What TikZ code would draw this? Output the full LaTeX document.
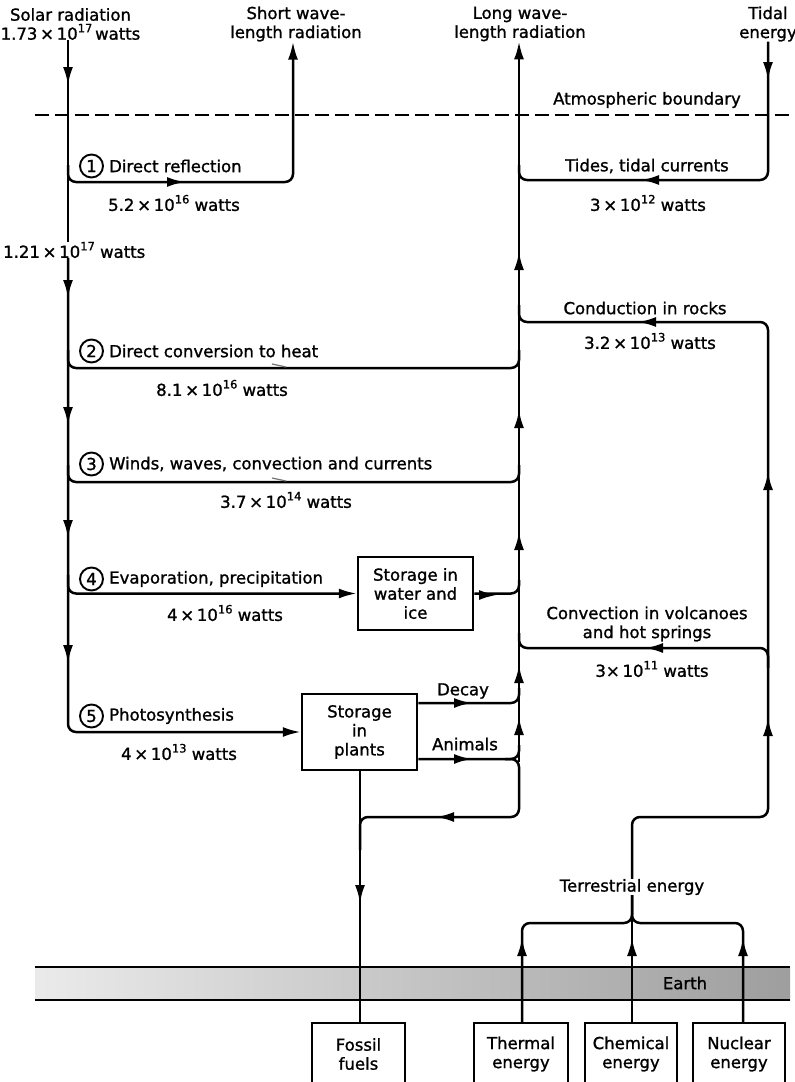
\documentclass[tikz,border=0pt]{standalone}
\usepackage{fontspec}
\setmainfont{DejaVu Sans}
\newfontfamily\diagfont{DejaVu Sans}[FakeBold=1.2]
\usetikzlibrary{arrows.meta}
\newcommand\myexp[1]{\raisebox{0.45em}{\fontsize{11.5}{12}\selectfont #1}}
\begin{document}
\begin{tikzpicture}[x=1pt,y=-1pt,
  flow/.style={line width=2.5pt, rounded corners=8pt},
  tip/.style={-{Latex[length=18pt,width=10pt]}},
  lab/.style={font=\diagfont\fontsize{16.5}{19}\selectfont, inner sep=0pt, align=center},
  box/.style={draw, line width=2.5pt, inner sep=0pt, align=center, font=\diagfont\fontsize{16.5}{19}\selectfont},
  numc/.style={circle, draw, line width=1.9pt, minimum size=23pt, inner sep=0pt, font=\diagfont\fontsize{16.5}{19}\selectfont},
  harp/.style={line width=1.2pt, black!55}]
\useasboundingbox (0,0) rectangle (795,1082);
\fill[white] (0,0) rectangle (795,1082);

% Earth band
\shade[left color=black!8, right color=black!38] (35,967) rectangle (790,1000);
\draw[line width=2.6pt] (35,967) -- (790,967) (35,1000) -- (790,1000);
\node[lab] (earth) at (685,983) {Earth};

% atmospheric boundary
\draw[line width=2.3pt, dash pattern=on 14pt off 6pt] (35,115) -- (795,115);
\node[lab] (atmo) at (647,100) {Atmospheric boundary};

% top labels
\node[lab, anchor=west] (solar) at (0.5,24) {Solar radiation\\1.73\,×\,10\myexp{17}\,watts};
\node[lab] (short) at (296,24) {Short wave-\\length radiation};
\node[lab] (long) at (520,24) {Long wave-\\length radiation};
\node[lab] (tidal) at (768,24) {Tidal\\energy};

% boxes
\node[box, minimum width=115pt, minimum height=73pt] (water) at (415.5,593.5) {Storage in\\water and\\ice};
\node[box, minimum width=115pt, minimum height=76pt] (plants) at (359.5,732) {Storage\\in\\plants};
\node[box, minimum width=93pt, minimum height=62pt] (fossil) at (358.5,1054) {Fossil\\fuels};
\node[box, minimum width=94pt, minimum height=62pt] (thermal) at (521,1054) {Thermal\\energy};
\node[box, minimum width=92pt, minimum height=62pt] (chem) at (631,1054) {Chemical\\energy};
\node[box, minimum width=92pt, minimum height=62pt] (nuc) at (739,1054) {Nuclear\\energy};

% main solar vertical
\node[lab, anchor=west] (w121) at (3,250) {1.21\,×\,10\myexp{17} watts};
\draw[flow] (solar.south -| 68,0) -- (w121.north -| 68,0);
\draw[flow,tip] (w121.south -| 68,0) |- (plants.west);
\draw[flow,tip] (68,75) -- (68,85);
\draw[flow,tip] (68,288) -- (68,298);
\draw[flow,tip] (68,415) -- (68,425);
\draw[flow,tip] (68,528) -- (68,538);
\draw[flow,tip] (68,653) -- (68,663);

% long wave vertical
\draw[flow,tip] (519,762) -- (long.south -| 519,0);
\draw[flow,tip] (519,727) -- (519,717);
\draw[flow,tip] (519,675) -- (519,665);
\draw[flow,tip] (519,542) -- (519,532);
\draw[flow,tip] (519,420) -- (519,410);
\draw[flow,tip] (519,262) -- (519,252);

% branch 1
\node[numc] (n1) at (91.5,166) {1};
\node[lab, anchor=west] (t1) at (109,166) {Direct reflection};
\node[lab] (w1) at (174,203) {5.2\,×\,10\myexp{16} watts};
\draw[flow,tip] (68,165) |- (293,182) -- (short.south -| 293,0);
\draw[flow,tip] (175,182) -- (185,182);

% branch 2
\node[numc] (n2) at (91.5,351) {2};
\node[lab, anchor=west] (t2) at (109,351) {Direct conversion to heat};
\node[lab] (w2) at (222,388) {8.1\,×\,10\myexp{16} watts};
\draw[flow] (68,350) -- (68,368) -- (519,368) -- (519,350);
\draw[harp] (272,364) -- (286,367);

% branch 3
\node[numc] (n3) at (91.5,464) {3};
\node[lab, anchor=west] (t3) at (109,464) {Winds, waves, convection and currents};
\node[lab] (w3) at (286,500) {3.7\,×\,10\myexp{14} watts};
\draw[flow] (68,465) -- (68,482) -- (519,482) -- (519,465);
\draw[harp] (272,478) -- (286,481);

% branch 4
\node[numc] (n4) at (91.5,579) {4};
\node[lab, anchor=west] (t4) at (109,579) {Evaporation, precipitation};
\node[lab] (w4) at (225,613) {4\,×\,10\myexp{16} watts};
\draw[flow,tip] (68,575) |- (water.west);
\draw[flow] (water.east) -| (519,580);
\draw[flow,tip] (487,595) -- (497,595);

% branch 5
\node[numc] (n5) at (91.5,716) {5};
\node[lab, anchor=west] (t5) at (109,716) {Photosynthesis};
\node[lab] (w5) at (179,752) {4\,×\,10\myexp{13} watts};

% decay / animals
\node[lab] (decay) at (463,691) {Decay};
\node[lab] (animals) at (465,744) {Animals};
\draw[flow] (plants.east |- 0,703) -| (519,688);
\draw[flow,tip] (462,703) -- (472,703);
\draw[flow] (plants.east |- 0,759) -| (519,745);
\draw[flow,tip] (462,759) -- (472,759);
\draw[flow] (505,759) -| (519,817) -| (360,850);
\draw[flow,tip] (446,817) -- (436,817);
\draw[flow] (plants.south -| 360,0) -- (fossil.north -| 360,0);
\draw[flow,tip] (360,893) -- (360,903);

% tidal
\node[lab] (tides) at (647,166) {Tides, tidal currents};
\node[lab] (w6) at (648,203) {3\,×\,10\myexp{12} watts};
\draw[flow] (tidal.south -| 768,0) |- (519,180) -- (519,165);
\draw[flow,tip] (768,68) -- (768,80);
\draw[flow,tip] (651,180) -- (641,180);

% terrestrial loop
\node[lab] (terr) at (632,887) {Terrestrial energy};
\draw[flow] (terr.north) |- (768,817) |- (519,322) -- (519,305);
\draw[flow,tip] (768,728) -- (768,718);
\draw[flow,tip] (768,482) -- (768,472);
\draw[flow,tip] (648,322) -- (638,322);
\node[lab] (cond) at (645,308) {Conduction in rocks};
\node[lab] (w7) at (650,341) {3.2\,×\,10\myexp{13} watts};

% volcanoes
\node[lab] (volc) at (647,624) {Convection in volcanoes\\and hot springs};
\node[lab] (w8) at (652,669) {3×\,10\myexp{11} watts};
\draw[flow] (768,668) |- (519,648) -- (519,633);
\draw[flow,tip] (655,648) -- (645,648);

% brace
\draw[flow] (thermal.north -| 522,0) |- (632,923) -- (terr.south);
\draw[flow] (nuc.north -| 743,0) |- (632,923) -- (terr.south);
\draw[flow] (chem.north -| 632,0) -- (terr.south);
\draw[flow,tip] (522,948) -- (522,938);
\draw[flow,tip] (632,948) -- (632,938);
\draw[flow,tip] (743,948) -- (743,938);
\end{tikzpicture}
\end{document}
